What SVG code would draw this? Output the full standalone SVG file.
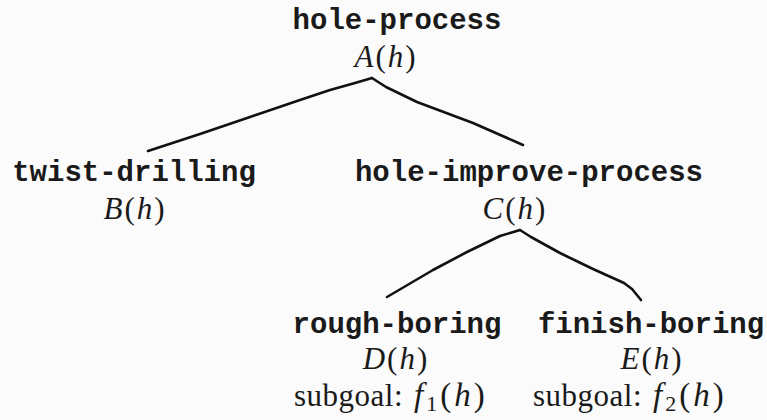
<svg xmlns="http://www.w3.org/2000/svg" width="767" height="420" viewBox="0 0 767 420">
<style>
.tt{font-family:"Liberation Mono","DejaVu Sans Mono",monospace;font-weight:bold;font-size:29px;fill:#1a1a1a;text-anchor:middle}
.m{font-family:"Liberation Serif","Times New Roman",serif;font-size:31px;fill:#1a1a1a;text-anchor:middle;letter-spacing:2px}
.r{font-family:"Liberation Serif","Times New Roman",serif;font-size:31px;fill:#1a1a1a;letter-spacing:0.5px}
.f{font-family:"Liberation Serif","Times New Roman",serif;font-size:33px;fill:#1a1a1a;letter-spacing:3px}
.i{font-style:italic}
.edge{fill:none;stroke:#111;stroke-width:2.6;stroke-linecap:round;stroke-linejoin:round}
</style>
<rect width="767" height="420" fill="#fbfbfb"/>
<g id="connectors">
<polyline class="edge" points="372,78 355,83 330,90 300,100 250,117 200,134 148,151"/>
<polyline class="edge" points="372,78 386,87 417,102 473,123 523,145"/>
<polyline class="edge" points="520,230 500,236 467,252 433,270 387,297"/>
<polyline class="edge" points="520,230 531,237 560,253 593,269 624,283 632,289 641,300"/>
</g>
<g id="node-A">
<text class="tt" x="397" y="29">hole-process</text>
<text class="m" x="386" y="67"><tspan class="i">A</tspan>(<tspan class="i">h</tspan>)</text>
</g>
<g id="node-B">
<text class="tt" x="134" y="181">twist-drilling</text>
<text class="m" x="135" y="219"><tspan class="i">B</tspan>(<tspan class="i">h</tspan>)</text>
</g>
<g id="node-C">
<text class="tt" x="529" y="181">hole-improve-process</text>
<text class="m" x="515" y="219"><tspan class="i">C</tspan>(<tspan class="i">h</tspan>)</text>
</g>
<g id="node-D">
<text class="tt" x="397" y="333">rough-boring</text>
<text class="m" x="396" y="369"><tspan class="i">D</tspan>(<tspan class="i">h</tspan>)</text>
<text x="294" y="406"><tspan class="r">subgoal:</tspan><tspan class="f" x="414"><tspan class="i">f</tspan><tspan font-size="22" dy="5">1</tspan><tspan dy="-5">(</tspan><tspan class="i">h</tspan>)</tspan></text>
</g>
<g id="node-E">
<text class="tt" x="651" y="333">finish-boring</text>
<text class="m" x="652" y="369"><tspan class="i">E</tspan>(<tspan class="i">h</tspan>)</text>
<text x="533" y="406"><tspan class="r">subgoal:</tspan><tspan class="f" x="653"><tspan class="i">f</tspan><tspan font-size="22" dy="5">2</tspan><tspan dy="-5">(</tspan><tspan class="i">h</tspan>)</tspan></text>
</g>
</svg>
